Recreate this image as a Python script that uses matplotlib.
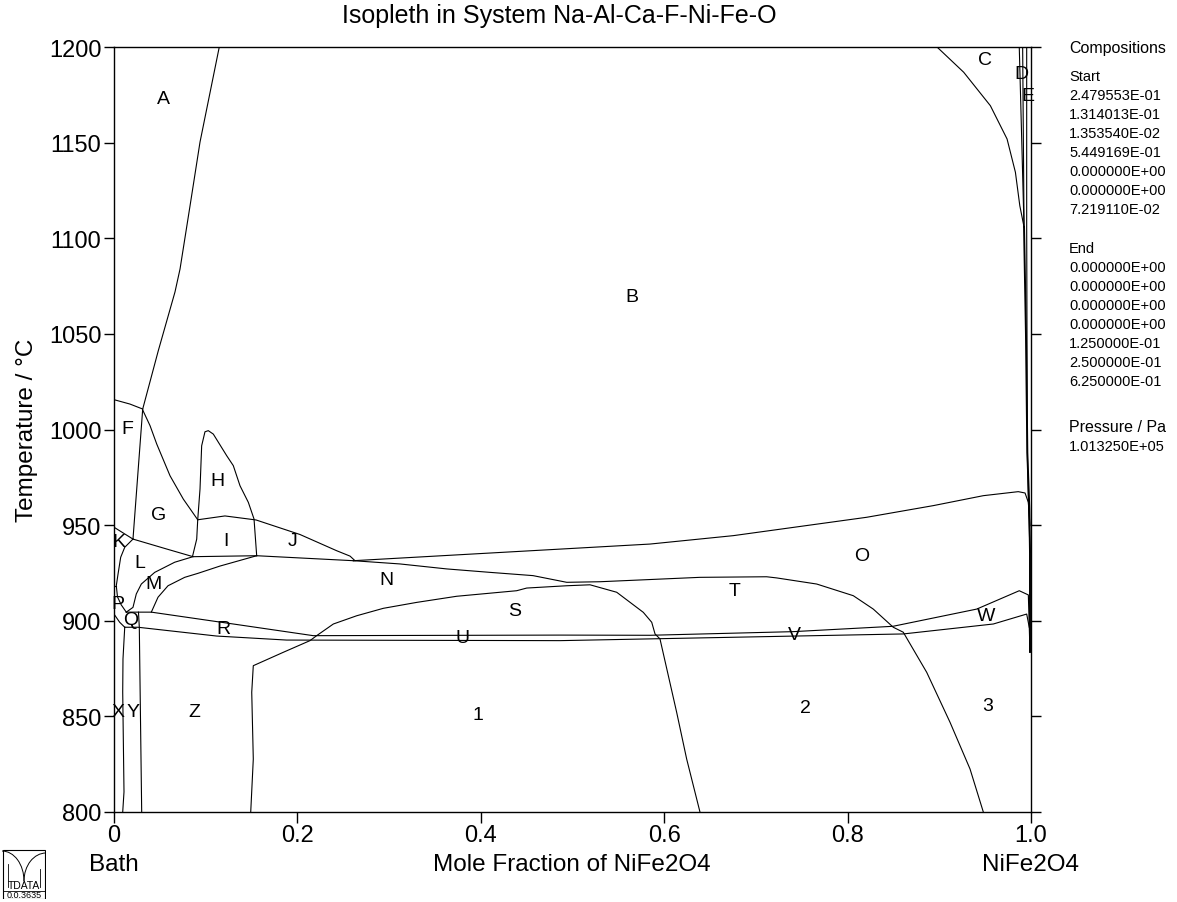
import matplotlib.pyplot as plt
from matplotlib.patches import Rectangle, Arc

plt.rcParams["font.family"] = ["Liberation Sans", "DejaVu Sans"]

# phase boundaries: mole fraction NiFe2O4 vs temperature (deg C)
liq_x = [0.1148, 0.0938, 0.0829, 0.0720, 0.0665, 0.0483, 0.0313, 0.0207]
liq_t = [1200, 1150.3, 1116.9, 1083.9, 1071.9, 1041.2, 1010.7, 942.7]

ftop_x = [0.0, 0.0174, 0.0313]
ftop_t = [1015.6, 1013.3, 1010.7]

bg_x = [0.0313, 0.0393, 0.0466, 0.0611, 0.0756, 0.0913]
bg_t = [1010.2, 1002.0, 992.4, 975.8, 963.6, 952.8]

h_x = [0.0858, 0.0902, 0.0913, 0.0938, 0.0956, 0.0992, 0.1028, 0.1083,
       0.1229, 0.1301, 0.1374, 0.1465, 0.1527, 0.1556]
h_t = [934.0, 942.7, 952.8, 968.9, 991.5, 998.8, 999.4, 997.6,
       986.3, 981.1, 970.6, 961.9, 953.2, 934.0]

ij_x = [0.0913, 0.1210, 0.1549, 0.2028, 0.2429, 0.2574, 0.2628]
ij_t = [952.8, 954.8, 952.7, 945.1, 936.6, 933.8, 931.4]

gl_x = [0.0207, 0.0575, 0.0862, 0.1556, 0.2610]
gl_t = [942.7, 937.5, 933.5, 934.0, 931.4]

ktop_x = [0.0, 0.0207]
ktop_t = [948.9, 942.7]

kl_x = [0.0207, 0.0117, 0.0073, 0.0044, 0.0025, 0.0038, 0.0079, 0.0134]
kl_t = [942.7, 938.4, 933.2, 924.4, 918.3, 912.5, 908.3, 904.5]

kp_x = [0.0, 0.0025]
kp_t = [918.3, 918.3]

px_x = [0.0, 0.0062, 0.0117]
px_t = [903.5, 899.2, 896.6]

lm_x = [0.0134, 0.0207, 0.0243, 0.0298, 0.0444, 0.0662, 0.0862]
lm_t = [904.5, 907.0, 914.0, 919.2, 925.3, 930.6, 933.5]

mn_x = [0.0407, 0.0480, 0.0589, 0.0771, 0.0916, 0.1156, 0.1556]
mn_t = [904.5, 912.3, 918.3, 922.7, 924.8, 928.6, 934.0]

upper_x = [0.0134, 0.0407, 0.1301, 0.2173, 0.4864, 0.5845, 0.7405, 0.8495,
           0.9408, 0.9872, 0.9971, 0.9989]
upper_t = [904.5, 904.5, 898.3, 892.2, 892.5, 892.4, 894.3, 897.1,
           906.1, 915.7, 913.5, 883.7]

lower_x = [0.0117, 0.0262, 0.1120, 0.1883, 0.4864, 0.8607, 0.9589, 0.9953, 0.9981]
lower_t = [896.6, 896.6, 892.0, 889.9, 889.6, 893.1, 898.3, 903.5, 896.6]

xy_x = [0.0117, 0.0098, 0.0095, 0.0109, 0.0095]
xy_t = [896.6, 880.0, 862.8, 810.5, 800]

yz_x = [0.0267, 0.0276, 0.0302]
yz_t = [904.5, 896.6, 800]

s_x = [0.1491, 0.1519, 0.1502, 0.1519, 0.1846, 0.2137, 0.2210, 0.2392, 0.2646,
       0.2937, 0.3301, 0.3737, 0.4391, 0.4501, 0.4937, 0.5191, 0.5482, 0.5772,
       0.5864, 0.5900, 0.5954, 0.6136, 0.6245, 0.6390]
s_t = [800, 827.7, 862.6, 876.5, 883.5, 889.6, 892.2, 898.3, 902.6,
       906.5, 909.6, 912.8, 915.7, 917.1, 918.3, 918.8, 914.9, 904.4,
       899.2, 893.1, 890.5, 852.1, 827.7, 800]

t_x = [0.2610, 0.3119, 0.3628, 0.4100, 0.4569, 0.4937, 0.5300, 0.6390, 0.7117,
       0.7226, 0.7663, 0.8062, 0.8280, 0.8498, 0.8607, 0.8863, 0.9117, 0.9335, 0.9480]
t_t = [931.4, 929.7, 927.1, 925.3, 923.6, 920.1, 920.4, 922.7, 923.0,
       922.4, 919.2, 913.1, 906.1, 896.6, 894.0, 873.0, 846.9, 822.5, 800]

o_x = [0.2610, 0.5845, 0.6754, 0.8208, 0.8935, 0.9480, 0.9861, 0.9935, 0.9971, 0.9989]
o_t = [931.4, 940.1, 944.5, 954.1, 960.2, 965.4, 967.5, 966.8, 961.9, 949.7]

c_x = [0.8975, 0.9266, 0.9557, 0.9739, 0.9830, 0.9878, 0.9924]
c_t = [1200, 1186.8, 1169.3, 1151.9, 1134.5, 1117.0, 1105.9]

d1_x = [0.9872, 0.9924]
d1_t = [1200, 1105.9]
d2_x = [0.9909, 0.9924]
d2_t = [1200, 1105.9]

e_x = [0.9953, 0.9953, 0.9960, 0.9971, 0.9989]
e_t = [1200, 1106.0, 988.0, 963.7, 935.9]

edge_x = [0.9924, 0.9945, 0.9960, 0.9982, 0.9989, 0.9989]
edge_t = [1105.9, 1050.0, 988.0, 958.4, 935.9, 883.7]

# region labels
region_names = ["A", "B", "C", "D", "E", "F", "G", "H", "I", "J", "K", "L", "M",
                "N", "O", "P", "Q", "R", "S", "T", "U", "V", "W", "X", "Y", "Z",
                "1", "2", "3"]
region_x = [0.0534, 0.5649, 0.9498, 0.9891, 0.9967, 0.0142, 0.0491, 0.1123,
            0.1221, 0.1952, 0.0055, 0.0284, 0.0436, 0.2966, 0.8157, 0.0044,
            0.0185, 0.1189, 0.4373, 0.6772, 0.3795, 0.7416, 0.9509, 0.0044,
            0.0207, 0.0872, 0.3969, 0.7535, 0.9531]
region_t = [1173.3, 1069.8, 1193.7, 1186.4, 1174.4, 1000.3, 955.3, 973.1,
            942.2, 942.2, 941.2, 930.2, 919.7, 921.8, 933.9, 908.8,
            900.9, 895.7, 905.1, 915.6, 891.0, 892.8, 902.5, 852.8,
            852.8, 852.8, 851.2, 854.9, 855.9]

comp_start = ["2.479553E-01", "1.314013E-01", "1.353540E-02", "5.449169E-01",
              "0.000000E+00", "0.000000E+00", "7.219110E-02"]
comp_end = ["0.000000E+00", "0.000000E+00", "0.000000E+00", "0.000000E+00",
            "1.250000E-01", "2.500000E-01", "6.250000E-01"]
pressure = "1.013250E+05"

W, H = 1177, 903
fig = plt.figure(figsize=(W / 100, H / 100), dpi=100)
ax = fig.add_axes([114 / W, 1 - 813 / H, 917 / W, 765 / H])

curves = [
    (liq_x, liq_t), (ftop_x, ftop_t), (bg_x, bg_t), (h_x, h_t), (ij_x, ij_t),
    (gl_x, gl_t), (ktop_x, ktop_t), (kl_x, kl_t), (kp_x, kp_t), (px_x, px_t),
    (lm_x, lm_t), (mn_x, mn_t), (upper_x, upper_t), (lower_x, lower_t),
    (xy_x, xy_t), (yz_x, yz_t), (s_x, s_t), (t_x, t_t), (o_x, o_t),
    (c_x, c_t), (d1_x, d1_t), (d2_x, d2_t), (e_x, e_t),
]
for xs, ts in curves:
    ax.plot(xs, ts, color="black", lw=0.8)
ax.plot(edge_x, edge_t, color="black", lw=1.4)

for name, x, t in zip(region_names, region_x, region_t):
    ax.text(x, t, name, ha="center", va="center", fontsize=14)

ax.set_xlim(0, 1)
ax.set_ylim(800, 1200)
ax.set_xticks([0, 0.2, 0.4, 0.6, 0.8, 1.0])
ax.set_xticklabels(["0", "0.2", "0.4", "0.6", "0.8", "1.0"])
ax.set_yticks(range(800, 1201, 50))
ax.tick_params(axis="x", direction="out", length=8, width=1, labelsize=17, pad=1)
ax.tick_params(axis="y", direction="out", length=7, width=1, labelsize=17, pad=2,
               right=True)
for sp in ax.spines.values():
    sp.set_linewidth(1.0)

fig.text(559 / W, 1 - 16 / H, "Isopleth in System Na-Al-Ca-F-Ni-Fe-O",
         ha="center", va="center", fontsize=18)
fig.text(27 / W, 1 - 430 / H, "Temperature / °C", rotation=90,
         ha="center", va="center", fontsize=17.5)
fig.text(572 / W, 1 - 865 / H, "Mole Fraction of NiFe2O4",
         ha="center", va="center", fontsize=17.5)
fig.text(114 / W, 1 - 865 / H, "Bath", ha="center", va="center", fontsize=17.5)
fig.text(1031 / W, 1 - 865 / H, "NiFe2O4", ha="center", va="center", fontsize=17.5)

# composition panel on the right
tx = 1069 / W
fig.text(tx, 1 - 49 / H, "Compositions", ha="left", va="center", fontsize=11.5)
fig.text(tx, 1 - 77 / H, "Start", ha="left", va="center", fontsize=10.5)
for i, s in enumerate(comp_start):
    fig.text(tx, 1 - (96 + 19 * i) / H, s, ha="left", va="center", fontsize=10.5)
fig.text(tx, 1 - 249 / H, "End", ha="left", va="center", fontsize=10.5)
for i, s in enumerate(comp_end):
    fig.text(tx, 1 - (268 + 19 * i) / H, s, ha="left", va="center", fontsize=10.5)
fig.text(tx, 1 - 428 / H, "Pressure / Pa", ha="left", va="center", fontsize=11.5)
fig.text(tx, 1 - 447 / H, pressure, ha="left", va="center", fontsize=10.5)

# small logo bottom-left
lg = fig.add_axes([2 / W, 1 - 900 / H, 44 / W, 50 / H])
lg.set_xlim(0, 44)
lg.set_ylim(0, 50)
lg.axis("off")
lg.add_patch(Rectangle((0.5, 0.5), 43, 49, fill=False, lw=0.8))
lg.plot([0.5, 43.5], [8, 8], color="black", lw=0.6)
lg.add_patch(Arc((0, 18), 44, 60, theta1=0, theta2=90, lw=0.7))
lg.add_patch(Arc((44, 18), 44, 56, theta1=90, theta2=180, lw=0.7))
lg.plot([6, 6], [12, 35], color="black", lw=0.6)
lg.plot([38, 38], [12, 30], color="black", lw=0.6)
lg.text(22, 14, "TDATA", ha="center", va="center", fontsize=7.5)
lg.text(22, 4, "0.0.3635", ha="center", va="center", fontsize=6.5)

fig.savefig("out.png", dpi=100)
